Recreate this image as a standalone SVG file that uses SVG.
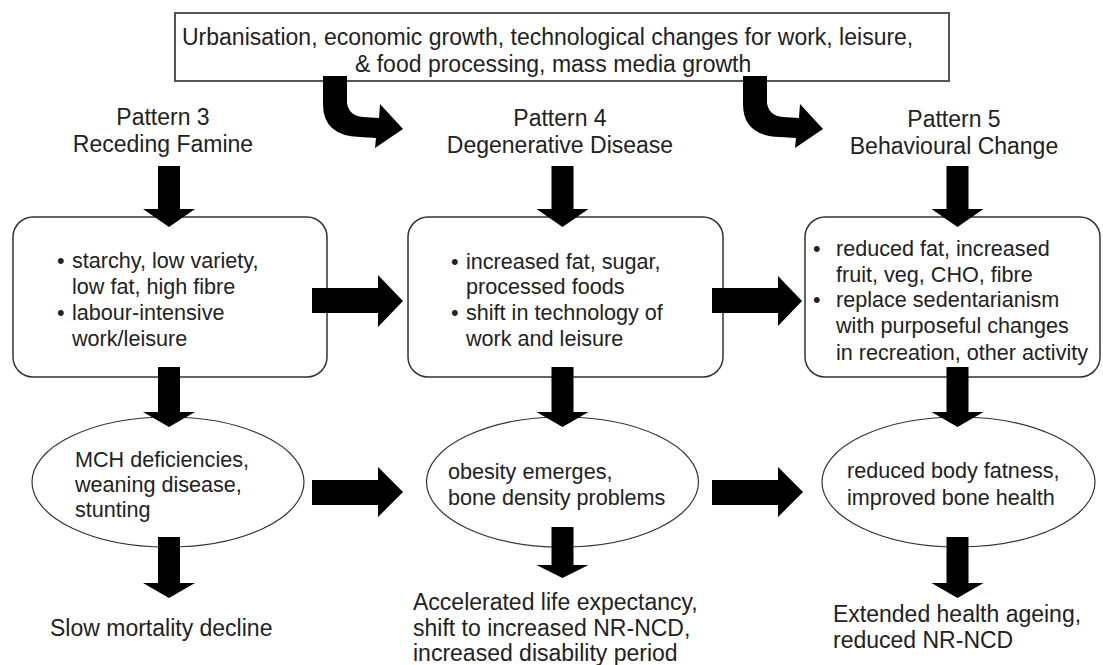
<svg xmlns="http://www.w3.org/2000/svg" width="1103" height="665" viewBox="0 0 1103 665">
<style>
  text { font-family: "Liberation Sans", Arial, sans-serif; fill: #222; }
  .t23 { font-size: 23px; }
  .t22 { font-size: 21.6px; }
  .mid { text-anchor: middle; }
  .box { fill: #fff; stroke: #333; stroke-width: 1.5; }
  .top { fill: #fff; stroke: #555; stroke-width: 2; }
  .ell { fill: #fff; stroke: #333; stroke-width: 1.2; }
  .arr { fill: #000; stroke: none; }
</style>
<rect width="1103" height="665" fill="#fff"/>

<g id="drivers">
  <rect class="top" x="175" y="13" width="774" height="68"/>
  <text class="t23" x="182" y="44.5">Urbanisation, economic growth, technological changes for work, leisure,</text>
  <text class="t23" x="355" y="71.5">&amp; food processing, mass media growth</text>
</g>

<g id="pattern3-header">
  <text class="t23 mid" x="163" y="125">Pattern 3</text>
  <text class="t23 mid" x="163" y="152">Receding Famine</text>
</g>
<g id="pattern4-header">
  <text class="t23 mid" x="560" y="126">Pattern 4</text>
  <text class="t23 mid" x="560" y="153">Degenerative Disease</text>
</g>
<g id="pattern5-header">
  <text class="t23 mid" x="954" y="127">Pattern 5</text>
  <text class="t23 mid" x="954" y="154">Behavioural Change</text>
</g>

<g id="diet3">
  <rect class="box" x="13" y="217" width="314" height="160" rx="20"/>
  <text class="t22" x="57" y="268">•</text>
  <text class="t22" x="72" y="268">starchy, low variety,</text>
  <text class="t22" x="72" y="294">low fat, high fibre</text>
  <text class="t22" x="57" y="320">•</text>
  <text class="t22" x="72" y="320">labour-intensive</text>
  <text class="t22" x="72" y="346">work/leisure</text>
</g>
<g id="diet4">
  <rect class="box" x="408" y="217" width="315" height="160" rx="20"/>
  <text class="t22" x="451" y="269">•</text>
  <text class="t22" x="466" y="269">increased fat, sugar,</text>
  <text class="t22" x="466" y="294">processed foods</text>
  <text class="t22" x="451" y="320">•</text>
  <text class="t22" x="466" y="320">shift in technology of</text>
  <text class="t22" x="466" y="346">work and leisure</text>
</g>
<g id="diet5">
  <rect class="box" x="805" y="217" width="295" height="160" rx="20"/>
  <text class="t22" x="813" y="256">•</text>
  <text class="t22" x="836" y="256">reduced fat, increased</text>
  <text class="t22" x="836" y="282">fruit, veg, CHO, fibre</text>
  <text class="t22" x="813" y="307">•</text>
  <text class="t22" x="836" y="307">replace sedentarianism</text>
  <text class="t22" x="836" y="333">with purposeful changes</text>
  <text class="t22" x="836" y="360">in recreation, other activity</text>
</g>

<g id="health3">
  <ellipse class="ell" cx="168" cy="482" rx="136" ry="65"/>
  <text class="t22" x="75" y="467">MCH deficiencies,</text>
  <text class="t22" x="75" y="492">weaning disease,</text>
  <text class="t22" x="75" y="517">stunting</text>
</g>
<g id="health4">
  <ellipse class="ell" cx="562.5" cy="482" rx="136" ry="65"/>
  <text class="t22" x="448" y="479">obesity emerges,</text>
  <text class="t22" x="448" y="505">bone density problems</text>
</g>
<g id="health5">
  <ellipse class="ell" cx="958.5" cy="482" rx="136.5" ry="65"/>
  <text class="t22" x="847" y="478">reduced body fatness,</text>
  <text class="t22" x="847" y="505">improved bone health</text>
</g>

<g id="outcome3">
  <text class="t23" x="50" y="636">Slow mortality decline</text>
</g>
<g id="outcome4">
  <text class="t23" x="413" y="610">Accelerated life expectancy,</text>
  <text class="t23" x="413" y="636">shift to increased NR-NCD,</text>
  <text class="t23" x="413" y="661">increased disability period</text>
</g>
<g id="outcome5">
  <text class="t23" x="833" y="622">Extended health ageing,</text>
  <text class="t23" x="833" y="648">reduced NR-NCD</text>
</g>

<g id="connectors">
  <!-- curved arrows from drivers -->
  <path class="arr" d="M323,76 L347,76 L347,103 Q349,116 363,117 L379,118 L380,104 L403,129 L375,148 L376,138 L360,137 Q323,136 323,104 Z"/>
  <path class="arr" d="M743,76 L767,76 L767,103 Q769,116 783,117 L799,118 L800,104 L823,129 L795,148 L796,138 L780,137 Q743,136 743,104 Z"/>
  <!-- header to diet boxes -->
  <polygon class="arr" points="158,166 180,166 180,209 195,209 169,227 143,209 158,209"/>
  <polygon class="arr" points="551.5,166 573.5,166 573.5,209 588.5,209 562.5,227 536.5,209 551.5,209"/>
  <polygon class="arr" points="946.5,166 968.5,166 968.5,209 983.5,209 957.5,227 931.5,209 946.5,209"/>
  <!-- diet to health -->
  <polygon class="arr" points="158,367 180,367 180,412 195,412 169,427 143,412 158,412"/>
  <polygon class="arr" points="551.5,367 573.5,367 573.5,412 588.5,412 562.5,427 536.5,412 551.5,412"/>
  <polygon class="arr" points="946.5,367 968.5,367 968.5,412 983.5,412 957.5,427 931.5,412 946.5,412"/>
  <!-- health to outcome -->
  <polygon class="arr" points="158,537 180,537 180,583 195,583 169,598 143,583 158,583"/>
  <polygon class="arr" points="551.5,527 573.5,527 573.5,565 588.5,565 562.5,578 536.5,565 551.5,565"/>
  <polygon class="arr" points="946.5,537 968.5,537 968.5,583 983.5,583 957.5,598 931.5,583 946.5,583"/>
  <!-- horizontal: diet row -->
  <polygon class="arr" points="312,288 378,288 378,275 403,301 378,327 378,313 312,313"/>
  <polygon class="arr" points="712,288 778,288 778,276 802,301 778,326 778,313 712,313"/>
  <!-- horizontal: health row -->
  <polygon class="arr" points="312,480 378,480 378,467 403,492 378,517 378,505 312,505"/>
  <polygon class="arr" points="712,480 778,480 778,467 803,492 778,517 778,505 712,505"/>
</g>
</svg>
